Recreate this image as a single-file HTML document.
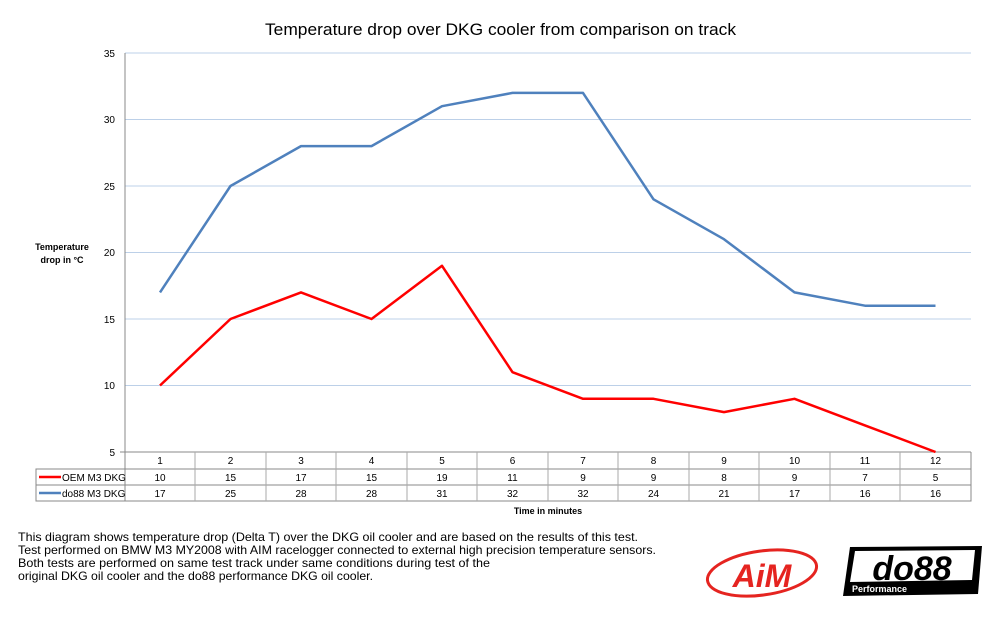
<!DOCTYPE html>
<html><head><meta charset="utf-8"><style>
body{margin:0;background:#fff;width:1000px;height:613px;overflow:hidden;font-family:"Liberation Sans",sans-serif}
</style></head><body>
<svg width="1000" height="613" xmlns="http://www.w3.org/2000/svg" font-family="Liberation Sans, sans-serif">
<text x="265" y="35" font-size="17" textLength="471" lengthAdjust="spacingAndGlyphs" fill="#000">Temperature drop over DKG cooler from comparison on track</text>
<g stroke="#bcd0e8" stroke-width="1">
<line x1="125" y1="53" x2="971" y2="53"/><line x1="125" y1="119.5" x2="971" y2="119.5"/>
<line x1="125" y1="186" x2="971" y2="186"/><line x1="125" y1="252.5" x2="971" y2="252.5"/>
<line x1="125" y1="319" x2="971" y2="319"/><line x1="125" y1="385.5" x2="971" y2="385.5"/>
</g>
<g font-size="10" text-anchor="end" fill="#000">
<text x="115" y="57">35</text><text x="115" y="123">30</text><text x="115" y="190">25</text>
<text x="115" y="256">20</text><text x="115" y="323">15</text><text x="115" y="389">10</text><text x="115" y="456">5</text>
</g>
<g stroke="#888" stroke-width="1" fill="none">
<line x1="125" y1="53" x2="125" y2="501"/>
<line x1="120" y1="452" x2="971" y2="452"/>
<rect x="36" y="469" width="935" height="32"/>
<line x1="36" y1="485" x2="971" y2="485"/>
<line x1="971" y1="452" x2="971" y2="469"/>
</g>
<g stroke="#aaa" stroke-width="1">
<line x1="195" y1="452" x2="195" y2="501"/><line x1="266" y1="452" x2="266" y2="501"/>
<line x1="336" y1="452" x2="336" y2="501"/><line x1="407" y1="452" x2="407" y2="501"/>
<line x1="477" y1="452" x2="477" y2="501"/><line x1="548" y1="452" x2="548" y2="501"/>
<line x1="618" y1="452" x2="618" y2="501"/><line x1="689" y1="452" x2="689" y2="501"/>
<line x1="759" y1="452" x2="759" y2="501"/><line x1="830" y1="452" x2="830" y2="501"/>
<line x1="900" y1="452" x2="900" y2="501"/>
</g>
<g font-size="10" text-anchor="middle" fill="#000">
<text x="160" y="464">1</text><text x="230.5" y="464">2</text><text x="301" y="464">3</text><text x="371.5" y="464">4</text><text x="442" y="464">5</text><text x="512.5" y="464">6</text><text x="583" y="464">7</text><text x="653.5" y="464">8</text><text x="724" y="464">9</text><text x="794.5" y="464">10</text><text x="865" y="464">11</text><text x="935.5" y="464">12</text>
<text x="160" y="481">10</text><text x="230.5" y="481">15</text><text x="301" y="481">17</text><text x="371.5" y="481">15</text><text x="442" y="481">19</text><text x="512.5" y="481">11</text><text x="583" y="481">9</text><text x="653.5" y="481">9</text><text x="724" y="481">8</text><text x="794.5" y="481">9</text><text x="865" y="481">7</text><text x="935.5" y="481">5</text>
<text x="160" y="497">17</text><text x="230.5" y="497">25</text><text x="301" y="497">28</text><text x="371.5" y="497">28</text><text x="442" y="497">31</text><text x="512.5" y="497">32</text><text x="583" y="497">32</text><text x="653.5" y="497">24</text><text x="724" y="497">21</text><text x="794.5" y="497">17</text><text x="865" y="497">16</text><text x="935.5" y="497">16</text>
</g>
<line x1="39" y1="477" x2="61" y2="477" stroke="#f00" stroke-width="2.5"/>
<text x="62" y="481" font-size="10">OEM M3 DKG</text>
<line x1="39" y1="493" x2="61" y2="493" stroke="#4f81bd" stroke-width="2.5"/>
<text x="62" y="497" font-size="10">do88 M3 DKG</text>
<text x="62" y="250" font-size="9" font-weight="bold" text-anchor="middle">Temperature</text>
<text x="62" y="263" font-size="9" font-weight="bold" text-anchor="middle">drop in °C</text>
<text x="548" y="514" font-size="9" font-weight="bold" text-anchor="middle">Time in minutes</text>
<polyline fill="none" stroke="#4f81bd" stroke-width="2.5" stroke-linejoin="round" points="160,292.4 230.5,186 301,146.1 371.5,146.1 442,106.2 512.5,92.9 583,92.9 653.5,199.3 724,239.2 794.5,292.4 865,305.7 935.5,305.7"/>
<polyline fill="none" stroke="#f00" stroke-width="2.5" stroke-linejoin="round" points="160,385.5 230.5,319 301,292.4 371.5,319 442,265.8 512.5,372.2 583,398.8 653.5,398.8 724,412.1 794.5,398.8 865,425.4 935.5,452"/>
<g font-size="12" fill="#000" lengthAdjust="spacingAndGlyphs">
<text x="18" y="541" textLength="620" lengthAdjust="spacingAndGlyphs">This diagram shows temperature drop (Delta T) over the DKG oil cooler and are based on the results of this test.</text>
<text x="18" y="554" textLength="638" lengthAdjust="spacingAndGlyphs">Test performed on BMW M3 MY2008 with AIM racelogger connected to external high precision temperature sensors.</text>
<text x="18" y="567" textLength="472" lengthAdjust="spacingAndGlyphs">Both tests are performed on same test track under same conditions during test of the</text>
<text x="18" y="580" textLength="355" lengthAdjust="spacingAndGlyphs">original DKG oil cooler and the do88 performance DKG oil cooler.</text>
</g>
<ellipse cx="762" cy="573" rx="55" ry="22" fill="none" stroke="#e52420" stroke-width="3" transform="rotate(-8 762 573)"/>
<text x="762" y="587" font-size="32" font-weight="bold" font-style="italic" fill="#e52420" text-anchor="middle">AiM</text>
<polygon points="850,547 982,546 978,594 843,596" fill="#000"/>
<polygon points="855,551 975,550 972,580 850,582" fill="#fff"/>
<text x="912" y="580" font-size="34" font-weight="bold" font-style="italic" fill="#000" text-anchor="middle">do88</text>
<text x="852" y="592" font-size="9" font-weight="bold" fill="#fff">Performance</text>
</svg>
</body></html>
